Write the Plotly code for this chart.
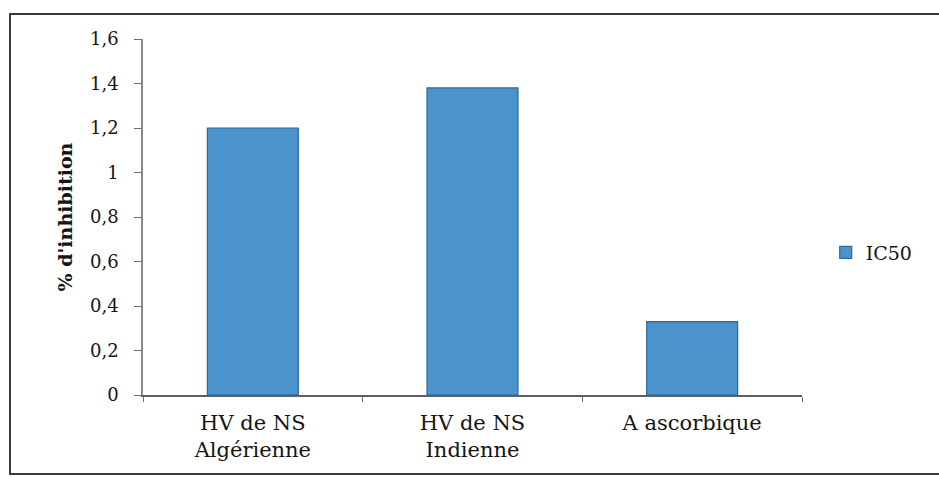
import plotly.graph_objects as go

# Data
categories = ["HV de NS<br>Algérienne", "HV de NS<br>Indienne", "A ascorbique"]
ic50_values = [1.20, 1.38, 0.33]
series_name = "IC50"
y_ticks = [0, 0.2, 0.4, 0.6, 0.8, 1.0, 1.2, 1.4, 1.6]

FONT = "DejaVu Serif"
TEXT = "#151515"

fig = go.Figure()
fig.add_trace(go.Bar(
    x=categories,
    y=ic50_values,
    name=series_name,
    marker=dict(color="#4b93cc", line=dict(color="#2d6898", width=1.2)),
    showlegend=True,
))

# Outer frame around the whole chart (paper coordinates)
fig.add_shape(
    type="rect", xref="paper", yref="paper",
    x0=-0.2018, x1=1.22, y0=-0.222, y1=1.070,
    line=dict(color="#3a3a3a", width=2), fillcolor="rgba(0,0,0,0)",
    layer="below",
)

fig.update_layout(
    width=939, height=477,
    margin=dict(l=143, r=137, t=39, b=82),
    paper_bgcolor="white", plot_bgcolor="white",
    separators=", ",
    bargap=0.586,
    font=dict(family=FONT, color=TEXT),
    legend=dict(
        x=1.036, y=0.40, xanchor="left", yanchor="middle",
        font=dict(family=FONT, size=19, color=TEXT),
        itemwidth=30, bgcolor="rgba(0,0,0,0)",
    ),
    xaxis=dict(
        showline=True, linecolor="#5e5e5e", linewidth=1.5,
        ticks="outside", ticklen=5, tickcolor="#6e6e6e",
        tickson="boundaries",
        ticklabelstandoff=8,
        tickfont=dict(family=FONT, size=21, color=TEXT),
        showgrid=False, zeroline=False,
    ),
    yaxis=dict(
        range=[0, 1.6], tickvals=y_ticks,
        tickformat="~g",
        showline=True, linecolor="#8a8a8a", linewidth=1.5,
        ticks="outside", ticklen=7, tickcolor="#6e6e6e",
        ticklabelstandoff=12,
        tickfont=dict(family=FONT, size=18, color=TEXT),
        showgrid=False, zeroline=False,
        title=dict(text="<b>% d'inhibition</b>", standoff=12,
                   font=dict(family=FONT, size=19, color=TEXT)),
    ),
)

fig.write_html("out.html")
